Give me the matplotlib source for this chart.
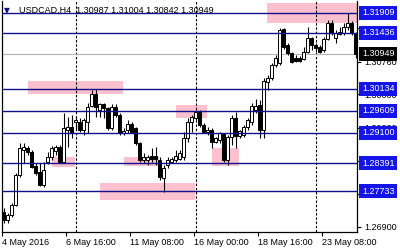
import matplotlib
matplotlib.use("Agg")
import matplotlib.pyplot as plt
from matplotlib.patches import Rectangle

# ── H4 candles, 4 May 2016 00:00 onwards (bar index = x) ───────────────────
opens = [
    1.27245, 1.27058, 1.27175, 1.27409, 1.28111, 1.28696, 1.28743, 1.28649, 1.28322, 1.28181,
    1.27877, 1.28415, 1.28532, 1.28673, 1.28766, 1.28415, 1.29164, 1.29234, 1.29351, 1.29351,
    1.29164, 1.29351, 1.29726, 1.30006, 1.29632, 1.29772, 1.29679, 1.29211, 1.29702, 1.29515,
    1.29094, 1.29164, 1.29304, 1.29211, 1.28860, 1.28462, 1.28462, 1.28556, 1.28556, 1.28462,
    1.28041, 1.28345, 1.28415, 1.28462, 1.28485, 1.28532, 1.28977, 1.29351, 1.29445, 1.29585,
    1.29281, 1.29117, 1.29164, 1.28883, 1.28930, 1.29070, 1.28462, 1.29000, 1.29445, 1.29024,
    1.29047, 1.29234, 1.29351, 1.29632, 1.29749, 1.29164, 1.30287, 1.30381, 1.30685, 1.30732,
    1.31527, 1.31153, 1.30966, 1.30849, 1.30849, 1.30825, 1.30989, 1.31317, 1.31153, 1.31106,
    1.31036, 1.31293, 1.31668, 1.31317, 1.31410, 1.31434, 1.31574, 1.31668, 1.31434,
]
highs = [
    1.27339, 1.27222, 1.27456, 1.28158, 1.28860, 1.28860, 1.28790, 1.28696, 1.28392, 1.28392,
    1.28415, 1.28649, 1.28790, 1.28813, 1.28813, 1.29562, 1.29468, 1.29515, 1.29468, 1.29445,
    1.29445, 1.29796, 1.30100, 1.30123, 1.29796, 1.29796, 1.29702, 1.29772, 1.29772, 1.29562,
    1.29211, 1.29398, 1.29351, 1.29234, 1.28883, 1.28626, 1.28579, 1.28743, 1.28766, 1.28532,
    1.28345, 1.28532, 1.28532, 1.28696, 1.28696, 1.29117, 1.29445, 1.29515, 1.29632, 1.29632,
    1.29328, 1.29234, 1.29211, 1.29000, 1.29117, 1.29094, 1.29047, 1.29515, 1.29585, 1.29164,
    1.29281, 1.29445, 1.29796, 1.29889, 1.29866, 1.30381, 1.30451, 1.30732, 1.30919, 1.31551,
    1.31551, 1.31200, 1.30989, 1.30919, 1.30896, 1.31106, 1.31574, 1.31340, 1.31200, 1.31153,
    1.31340, 1.31738, 1.31738, 1.31504, 1.31574, 1.31668, 1.31902, 1.31715, 1.31457,
]
lows = [
    1.26988, 1.26988, 1.27128, 1.27386, 1.28064, 1.28392, 1.28579, 1.28275, 1.28111, 1.27854,
    1.27830, 1.28368, 1.28462, 1.28579, 1.28392, 1.28392, 1.28766, 1.28977, 1.29164, 1.29117,
    1.29047, 1.29094, 1.29702, 1.29468, 1.29468, 1.29445, 1.29164, 1.29164, 1.29468, 1.29047,
    1.29047, 1.29094, 1.29094, 1.28813, 1.28415, 1.28392, 1.28345, 1.28415, 1.28345, 1.27994,
    1.27713, 1.28275, 1.28392, 1.28415, 1.28462, 1.28462, 1.28883, 1.29117, 1.29398, 1.29234,
    1.29094, 1.29047, 1.28743, 1.28860, 1.28860, 1.28415, 1.28345, 1.28813, 1.28743, 1.28977,
    1.29000, 1.29164, 1.29281, 1.29562, 1.28977, 1.28977, 1.30100, 1.30334, 1.30638, 1.30685,
    1.31059, 1.30919, 1.30732, 1.30755, 1.30755, 1.30802, 1.30966, 1.31036, 1.30989, 1.30966,
    1.30989, 1.31270, 1.31387, 1.31200, 1.31387, 1.31387, 1.31504, 1.31387, 1.30842,
]
closes = [
    1.27058, 1.27175, 1.27409, 1.28111, 1.28743, 1.28766, 1.28649, 1.28298, 1.28158, 1.27877,
    1.28228, 1.28532, 1.28743, 1.28766, 1.28415, 1.29211, 1.29234, 1.29094, 1.29398, 1.29164,
    1.29398, 1.29702, 1.30006, 1.29702, 1.29772, 1.29679, 1.29211, 1.29702, 1.29515, 1.29094,
    1.29141, 1.29304, 1.29117, 1.28860, 1.28462, 1.28532, 1.28532, 1.28485, 1.28485, 1.28064,
    1.28275, 1.28462, 1.28485, 1.28556, 1.28626, 1.28977, 1.29351, 1.29468, 1.29585, 1.29281,
    1.29117, 1.29164, 1.28883, 1.28977, 1.29094, 1.28462, 1.29000, 1.29445, 1.29024, 1.29141,
    1.29234, 1.29398, 1.29726, 1.29726, 1.29164, 1.30311, 1.30381, 1.30685, 1.30849, 1.31504,
    1.31106, 1.30966, 1.30755, 1.30779, 1.30779, 1.30989, 1.31317, 1.31153, 1.31083, 1.30989,
    1.31293, 1.31668, 1.31434, 1.31434, 1.31457, 1.31574, 1.31668, 1.31434, 1.30949,
]

# horizontal support / resistance levels and the bid line
levels = [1.31909, 1.31436, 1.30134, 1.29609, 1.29100, 1.28391, 1.27733]
bid = 1.30949
header_ohlc = ["1.30987", "1.31004", "1.30842", "1.30949"]

# pink zones: bar from, bar to, price low, price high
zone_start = [65.8, 6.0, 12.0, 24.0, 30.0, 43.0, 52.0]
zone_end = [89.0, 29.8, 17.9, 47.9, 38.8, 50.8, 58.9]
zone_low = [1.31668, 1.30000, 1.28291, 1.27526, 1.28329, 1.29438, 1.28322]
zone_high = [1.32136, 1.30311, 1.28539, 1.27917, 1.28539, 1.29749, 1.28750]

week_starts = [18, 48, 78]
time_ticks = [0, 16, 32, 48, 64, 80]
time_labels = ["4 May 2016", "6 May 16:00", "11 May 08:00",
               "16 May 00:00", "18 May 16:00", "23 May 08:00"]
price_ticks = [1.31540, 1.30760, 1.30000, 1.29220, 1.28440, 1.27660, 1.26900]

NAVY = "#10108c"
BLUE = "#1414e8"
PINK = "#fcc0cf"
FONT = ["Liberation Sans", "DejaVu Sans"]
plt.rcParams["font.family"] = FONT
plt.rcParams["font.size"] = 6.5

fig = plt.figure(figsize=(4, 2.5), dpi=100)
ax = fig.add_axes([1.5 / 400, 18 / 250, 355.5 / 400, 231 / 250])

# zones (background)
for x0, x1, lo, hi in zip(zone_start, zone_end, zone_low, zone_high):
    ax.add_patch(Rectangle((x0, lo), x1 - x0, hi - lo, facecolor=PINK,
                           edgecolor="none", zorder=0.5))

# week separators
for w in week_starts:
    ax.axvline(w, color="black", lw=0.8, ls=(0, (2.2, 1.6)), zorder=1)

# candles
n = len(opens)
xs = list(range(n))
ax.vlines(xs, lows, highs, color="black", lw=0.8, zorder=2)
for i in xs:
    o, c = opens[i], closes[i]
    lo, hi = min(o, c), max(o, c)
    h = max(hi - lo, 0.00004)
    ax.add_patch(Rectangle((i - 0.32, lo), 0.64, h,
                           facecolor="white" if c >= o else "black",
                           edgecolor="black", lw=0.7, zorder=3))

# levels drawn on top
for lv in levels:
    ax.axhline(lv, color=NAVY, lw=1.0, zorder=4)
ax.axhline(bid, color="#b4b4b4", lw=0.8, zorder=1.5)

ax.set_xlim(-0.5, 88.375)
ax.set_ylim(1.26777, 1.32183)

ax.set_xticks([t - 0.5 for t in time_ticks])
ax.set_xticklabels(time_labels, ha="left")
ax.tick_params(axis="x", length=3, width=0.8, pad=1, direction="out")

ax.yaxis.tick_right()
ax.set_yticks(price_ticks)
ax.set_yticklabels([f"{p:.5f}" for p in price_ticks])
ax.tick_params(axis="y", length=3, width=0.8, pad=2, direction="out")

ax.spines["top"].set_visible(False)
for s in ["left", "bottom", "right"]:
    ax.spines[s].set_linewidth(0.9)

# price labels on the right axis
for lv in levels:
    ax.annotate(f"{lv:.5f}", xy=(1, lv), xycoords=("axes fraction", "data"),
                xytext=(3.6, 0), textcoords="offset points", ha="left", va="center",
                color="white", zorder=6, annotation_clip=False,
                bbox=dict(boxstyle="square,pad=0.28", fc=BLUE, ec="none"))
ax.annotate(f"{bid:.5f}", xy=(1, bid), xycoords=("axes fraction", "data"),
            xytext=(3.6, 0), textcoords="offset points", ha="left", va="center",
            color="white", zorder=6, annotation_clip=False,
            bbox=dict(boxstyle="square,pad=0.28", fc="black", ec="none"))

# header
fig.text(4 / 400, 1 - 11 / 250, "\u25bc", color=NAVY, fontsize=5.5,
         va="center", ha="left", family=["DejaVu Sans"])
fig.text(19 / 400, 1 - 10 / 250, "USDCAD,H4  " + " ".join(header_ohlc),
         color="black", va="center", ha="left")

fig.savefig("out.png", dpi=100)
